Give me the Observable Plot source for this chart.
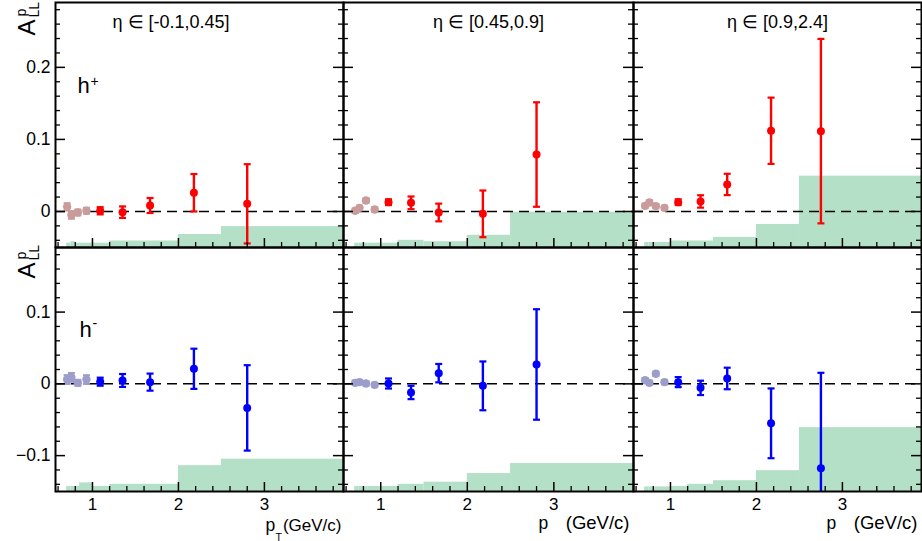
<!DOCTYPE html>
<html><head><meta charset="utf-8">
<script src="https://cdn.jsdelivr.net/npm/d3@7"></script>
<script src="https://cdn.jsdelivr.net/npm/@observablehq/plot@0.6"></script>
<style>
body{margin:0;background:#fff}
#wrap{position:relative;width:922px;height:541px;overflow:hidden;background:#fff}
</style>
</head><body><div id="wrap"></div>
<script>
// ---------------- data ----------------
const xLowPt   = [0.705, 0.755, 0.83, 0.93];
const xHighPtA = [1.09, 1.35, 1.67, 2.18, 2.80];
const xHighPtC = [1.09, 1.35, 1.66, 2.17, 2.75];

// h+ , eta bins
const hpLowEta1 = [0.0064, -0.005, -0.0014, 0.001];
const hpLowEta1Err = [0.005, 0.005, 0.004, 0.004];
const hpEta1 = [0.001, -0.001, 0.0083, 0.026, 0.0106];
const hpEta1Err = [0.005, 0.008, 0.0104, 0.026, 0.055];

const hpLowEta2 = [0.001, 0.005, 0.0153, 0.0028];
const hpLowEta2Err = [0.003, 0.003, 0.003, 0.003];
const hpEta2 = [0.0129, 0.012, -0.0014, -0.0033, 0.079];
const hpEta2Err = [0.004, 0.0088, 0.0123, 0.0324, 0.0725];

const hpLowEta3 = [0.0078, 0.0125, 0.0074, 0.005];
const hpLowEta3Err = [0.003, 0.003, 0.003, 0.003];
const hpEta3 = [0.0129, 0.0139, 0.0375, 0.112, 0.1115];
const hpEta3Err = [0.004, 0.0086, 0.0148, 0.046, 0.128];

// h- , eta bins
const hmLowEta1 = [0.006, 0.009, 0.0014, 0.006];
const hmLowEta1Err = [0.006, 0.006, 0.004, 0.006];
const hmEta1 = [0.003, 0.0047, 0.0024, 0.021, -0.0335];
const hmEta1Err = [0.0056, 0.009, 0.0119, 0.028, 0.0595];

const hmLowEta2 = [0.0014, 0.0024, 0.0005, -0.0014];
const hmLowEta2Err = [0.003, 0.003, 0.003, 0.003];
const hmEta2 = [0.0005, -0.012, 0.0149, -0.0028, 0.027];
const hmEta2Err = [0.007, 0.0093, 0.0128, 0.034, 0.077];

const hmLowEta3 = [0.005, 0.0014, 0.014, 0.0024];
const hmLowEta3Err = [0.003, 0.003, 0.003, 0.003];
const hmEta3 = [0.0024, -0.0056, 0.0075, -0.055, -0.1176];
const hmEta3Err = [0.007, 0.01, 0.015, 0.0486, 0.133];

// systematic bands (bin edges and band tops)
const sysLo = [0.7, 0.75, 0.8, 0.85, 1.0, 1.2, 1.5, 2.0, 2.5];
const sysHi = [0.75, 0.8, 0.85, 1.0, 1.2, 1.5, 2.0, 2.5, 4.0];
const sysHpEta1 = [-0.044, -0.042, -0.044, -0.044, -0.044, -0.041, -0.041, -0.032, -0.021];
const sysHpEta2 = [-0.044, -0.044, -0.044, -0.044, -0.044, -0.040, -0.042, -0.033, -0.001];
const sysHpEta3 = [-0.043, -0.043, -0.043, -0.043, -0.041, -0.041, -0.036, -0.018, 0.049];
const sysHmEta1 = [-0.143, -0.143, -0.143, -0.138, -0.143, -0.140, -0.140, -0.114, -0.105];
const sysHmEta2 = [-0.143, -0.143, -0.143, -0.143, -0.143, -0.140, -0.137, -0.125, -0.111];
const sysHmEta3 = [-0.1436, -0.1436, -0.1436, -0.1436, -0.143, -0.140, -0.135, -0.121, -0.061];

// ticks and labels
const xMajor = [1, 2, 3];
const xMinor = [0.6, 0.8, 1.2, 1.4, 1.6, 1.8, 2.2, 2.4, 2.6, 2.8, 3.2, 3.4, 3.6, 3.8];
const xTickLabels = ["1", "2", "3"];
const yMajorTop = [0, 0.1, 0.2];
const yMinorTop = [-0.04, -0.02, 0.02, 0.04, 0.06, 0.08, 0.12, 0.14, 0.16, 0.18, 0.22, 0.24, 0.26, 0.28];
const yLabelsTop = ["0", "0.1", "0.2"];
const yMajorBot = [-0.1, 0, 0.1];
const yMinorBot = [-0.14, -0.12, -0.08, -0.06, -0.04, -0.02, 0.02, 0.04, 0.06, 0.08, 0.12, 0.14, 0.16, 0.18];
const yLabelsBot = ["\u22120.1", "0", "0.1"];
const etaLabels = ["\u03b7 \u2208 [-0.1,0.45]", "\u03b7 \u2208 [0.45,0.9]", "\u03b7 \u2208 [0.9,2.4]"];

// ---------------- layout ----------------
const FONT = '"Liberation Sans", Arial, Helvetica, sans-serif';
const xDomain = [0.57, 3.92];
const yDomains = [[-0.05, 0.29], [-0.15, 0.19]];
const colLefts = [55, 343, 633];
const colWidths = [288, 290, 288];
const rowTops = [2, 247];
const rowHeights = [245, 244];
const bandColor = "#b3e0c6";

const panels = [
  {row:0, col:0, yLow:hpLowEta1, eLow:hpLowEta1Err, xHigh:xHighPtA, yHigh:hpEta1, eHigh:hpEta1Err, sys:sysHpEta1, c:"#ff0000", cl:"#c99b9b"},
  {row:0, col:1, yLow:hpLowEta2, eLow:hpLowEta2Err, xHigh:xHighPtA, yHigh:hpEta2, eHigh:hpEta2Err, sys:sysHpEta2, c:"#ff0000", cl:"#c99b9b"},
  {row:0, col:2, yLow:hpLowEta3, eLow:hpLowEta3Err, xHigh:xHighPtC, yHigh:hpEta3, eHigh:hpEta3Err, sys:sysHpEta3, c:"#ff0000", cl:"#c99b9b"},
  {row:1, col:0, yLow:hmLowEta1, eLow:hmLowEta1Err, xHigh:xHighPtA, yHigh:hmEta1, eHigh:hmEta1Err, sys:sysHmEta1, c:"#0000ff", cl:"#9d9dcc"},
  {row:1, col:1, yLow:hmLowEta2, eLow:hmLowEta2Err, xHigh:xHighPtA, yHigh:hmEta2, eHigh:hmEta2Err, sys:sysHmEta2, c:"#0000ff", cl:"#9d9dcc"},
  {row:1, col:2, yLow:hmLowEta3, eLow:hmLowEta3Err, xHigh:xHighPtC, yHigh:hmEta3, eHigh:hmEta3Err, sys:sysHmEta3, c:"#0000ff", cl:"#9d9dcc"}
];

const capSymbol = {draw(ctx) { ctx.moveTo(-3.5, 0); ctx.lineTo(3.5, 0); }};

function errMarks(pts, color, r) {
  return [
    Plot.ruleX(pts, {x: "x", y1: d => d.y - d.e, y2: d => d.y + d.e, stroke: color, strokeWidth: 2.4, clip: true}),
    Plot.dot(pts, {x: "x", y: d => d.y + d.e, symbol: capSymbol, stroke: color, strokeWidth: 2.2, fill: "none", clip: true}),
    Plot.dot(pts, {x: "x", y: d => d.y - d.e, symbol: capSymbol, stroke: color, strokeWidth: 2.2, fill: "none", clip: true}),
    Plot.dot(pts, {x: "x", y: "y", r: r, fill: color, stroke: "none", clip: true})
  ];
}

function txt(s, o) {
  return Plot.text([s], Object.assign({text: d => d, fill: "black", frameAnchor: "top-left", textAnchor: "start", lineAnchor: "bottom"}, o));
}

const wrap = document.getElementById("wrap");

panels.forEach((p, k) => {
  const W = colWidths[p.col], H = rowHeights[p.row];
  const yDomain = yDomains[p.row];
  const bins = sysLo.map((lo, i) => ({lo, hi: sysHi[i], top: p.sys[i]}));
  const low = xLowPt.map((x, i) => ({x, y: p.yLow[i], e: p.eLow[i]}));
  const high = p.xHigh.map((x, i) => ({x, y: p.yHigh[i], e: p.eHigh[i]}));
  const yMajor = p.row === 0 ? yMajorTop : yMajorBot;
  const yMinor = p.row === 0 ? yMinorTop : yMinorBot;
  const yLabels = p.row === 0 ? yLabelsTop : yLabelsBot;

  const marks = [
    Plot.rect(bins, {x1: "lo", x2: "hi", y1: yDomain[0], y2: "top", fill: bandColor, clip: true}),
    Plot.ruleY([0], {stroke: "black", strokeWidth: 1.5, strokeDasharray: "10,6"}),
    ...errMarks(low, p.cl, 4.2),
    ...errMarks(high, p.c, 4),
    // ticks (inside the frame)
    Plot.ruleX(xMinor, {x: d => d, insetTop: H - 5, stroke: "black", strokeWidth: 1.3}),
    Plot.ruleX(xMajor, {x: d => d, insetTop: H - 9, stroke: "black", strokeWidth: 1.5}),
    Plot.ruleY(yMinor, {y: d => d, insetRight: W - 5, stroke: "black", strokeWidth: 1.3}),
    Plot.ruleY(yMajor, {y: d => d, insetRight: W - 10, stroke: "black", strokeWidth: 1.5}),
    Plot.ruleY(yMinor, {y: d => d, insetLeft: W - 5, stroke: "black", strokeWidth: 1.3}),
    Plot.ruleY(yMajor, {y: d => d, insetLeft: W - 10, stroke: "black", strokeWidth: 1.5}),
    Plot.frame({stroke: "black", strokeWidth: 2})
  ];

  if (p.row === 0) {
    if (p.col === 0) {
      marks.push(txt(etaLabels[0], {dx: 57, dy: 25, fontSize: 18}));
    } else {
      marks.push(txt(etaLabels[p.col], {frameAnchor: "top", textAnchor: "middle", dy: 25, fontSize: 18}));
    }
  }
  if (p.col === 0) {
    marks.push(Plot.text(yMajor, {y: d => d, text: (d, i) => yLabels[i], fill: "black", frameAnchor: "left", textAnchor: "end", dx: -5, fontSize: 17.5}));
    const off = p.row === 0 ? 0 : -2;
    marks.push(txt("A", {rotate: -90, dx: -21, dy: 33 + off, fontSize: 24}));
    marks.push(txt("LL", {rotate: -90, dx: -17, dy: 15 + off, fontSize: 14}));
    marks.push(txt("p", {rotate: -90, dx: -30, dy: 14 + off, fontSize: 14}));
    if (p.row === 0) {
      marks.push(txt("h", {dx: 22, dy: 90, fontSize: 22}));
      marks.push(txt("+", {dx: 35, dy: 83, fontSize: 14}));
    } else {
      marks.push(txt("h", {dx: 24, dy: 89, fontSize: 22}));
      marks.push(txt("-", {dx: 37, dy: 80, fontSize: 14}));
    }
  }
  if (p.row === 1) {
    marks.push(Plot.text(xMajor, {x: d => d, text: (d, i) => xTickLabels[i], fill: "black", frameAnchor: "bottom", lineAnchor: "top", dy: 6, fontSize: 17}));
    if (p.col === 0) {
      marks.push(txt("(GeV/c)", {frameAnchor: "bottom-right", textAnchor: "end", dx: -2, dy: 39, fontSize: 17}));
      marks.push(txt("p", {frameAnchor: "bottom-right", dx: -78, dy: 39, fontSize: 17.5}));
      marks.push(txt("T", {frameAnchor: "bottom-right", dx: -68, dy: 49, fontSize: 10.5}));
    } else {
      marks.push(txt("(GeV/c)", {frameAnchor: "bottom-right", textAnchor: "end", dx: -4, dy: 37, fontSize: 18.5}));
      marks.push(txt("p", {frameAnchor: "bottom-right", dx: -95, dy: 37, fontSize: 17.5}));
    }
  }

  const svg = Plot.plot({
    width: W, height: H, margin: 0,
    x: {domain: xDomain, axis: null},
    y: {domain: yDomain, axis: null},
    style: {overflow: "visible", background: "transparent", fontFamily: FONT, fontSize: "17px", color: "black"},
    marks
  });
  svg.style.position = "absolute";
  svg.style.left = colLefts[p.col] + "px";
  svg.style.top = rowTops[p.row] + "px";
  svg.style.maxWidth = "none";
  wrap.appendChild(svg);
});
</script>
</body></html>
